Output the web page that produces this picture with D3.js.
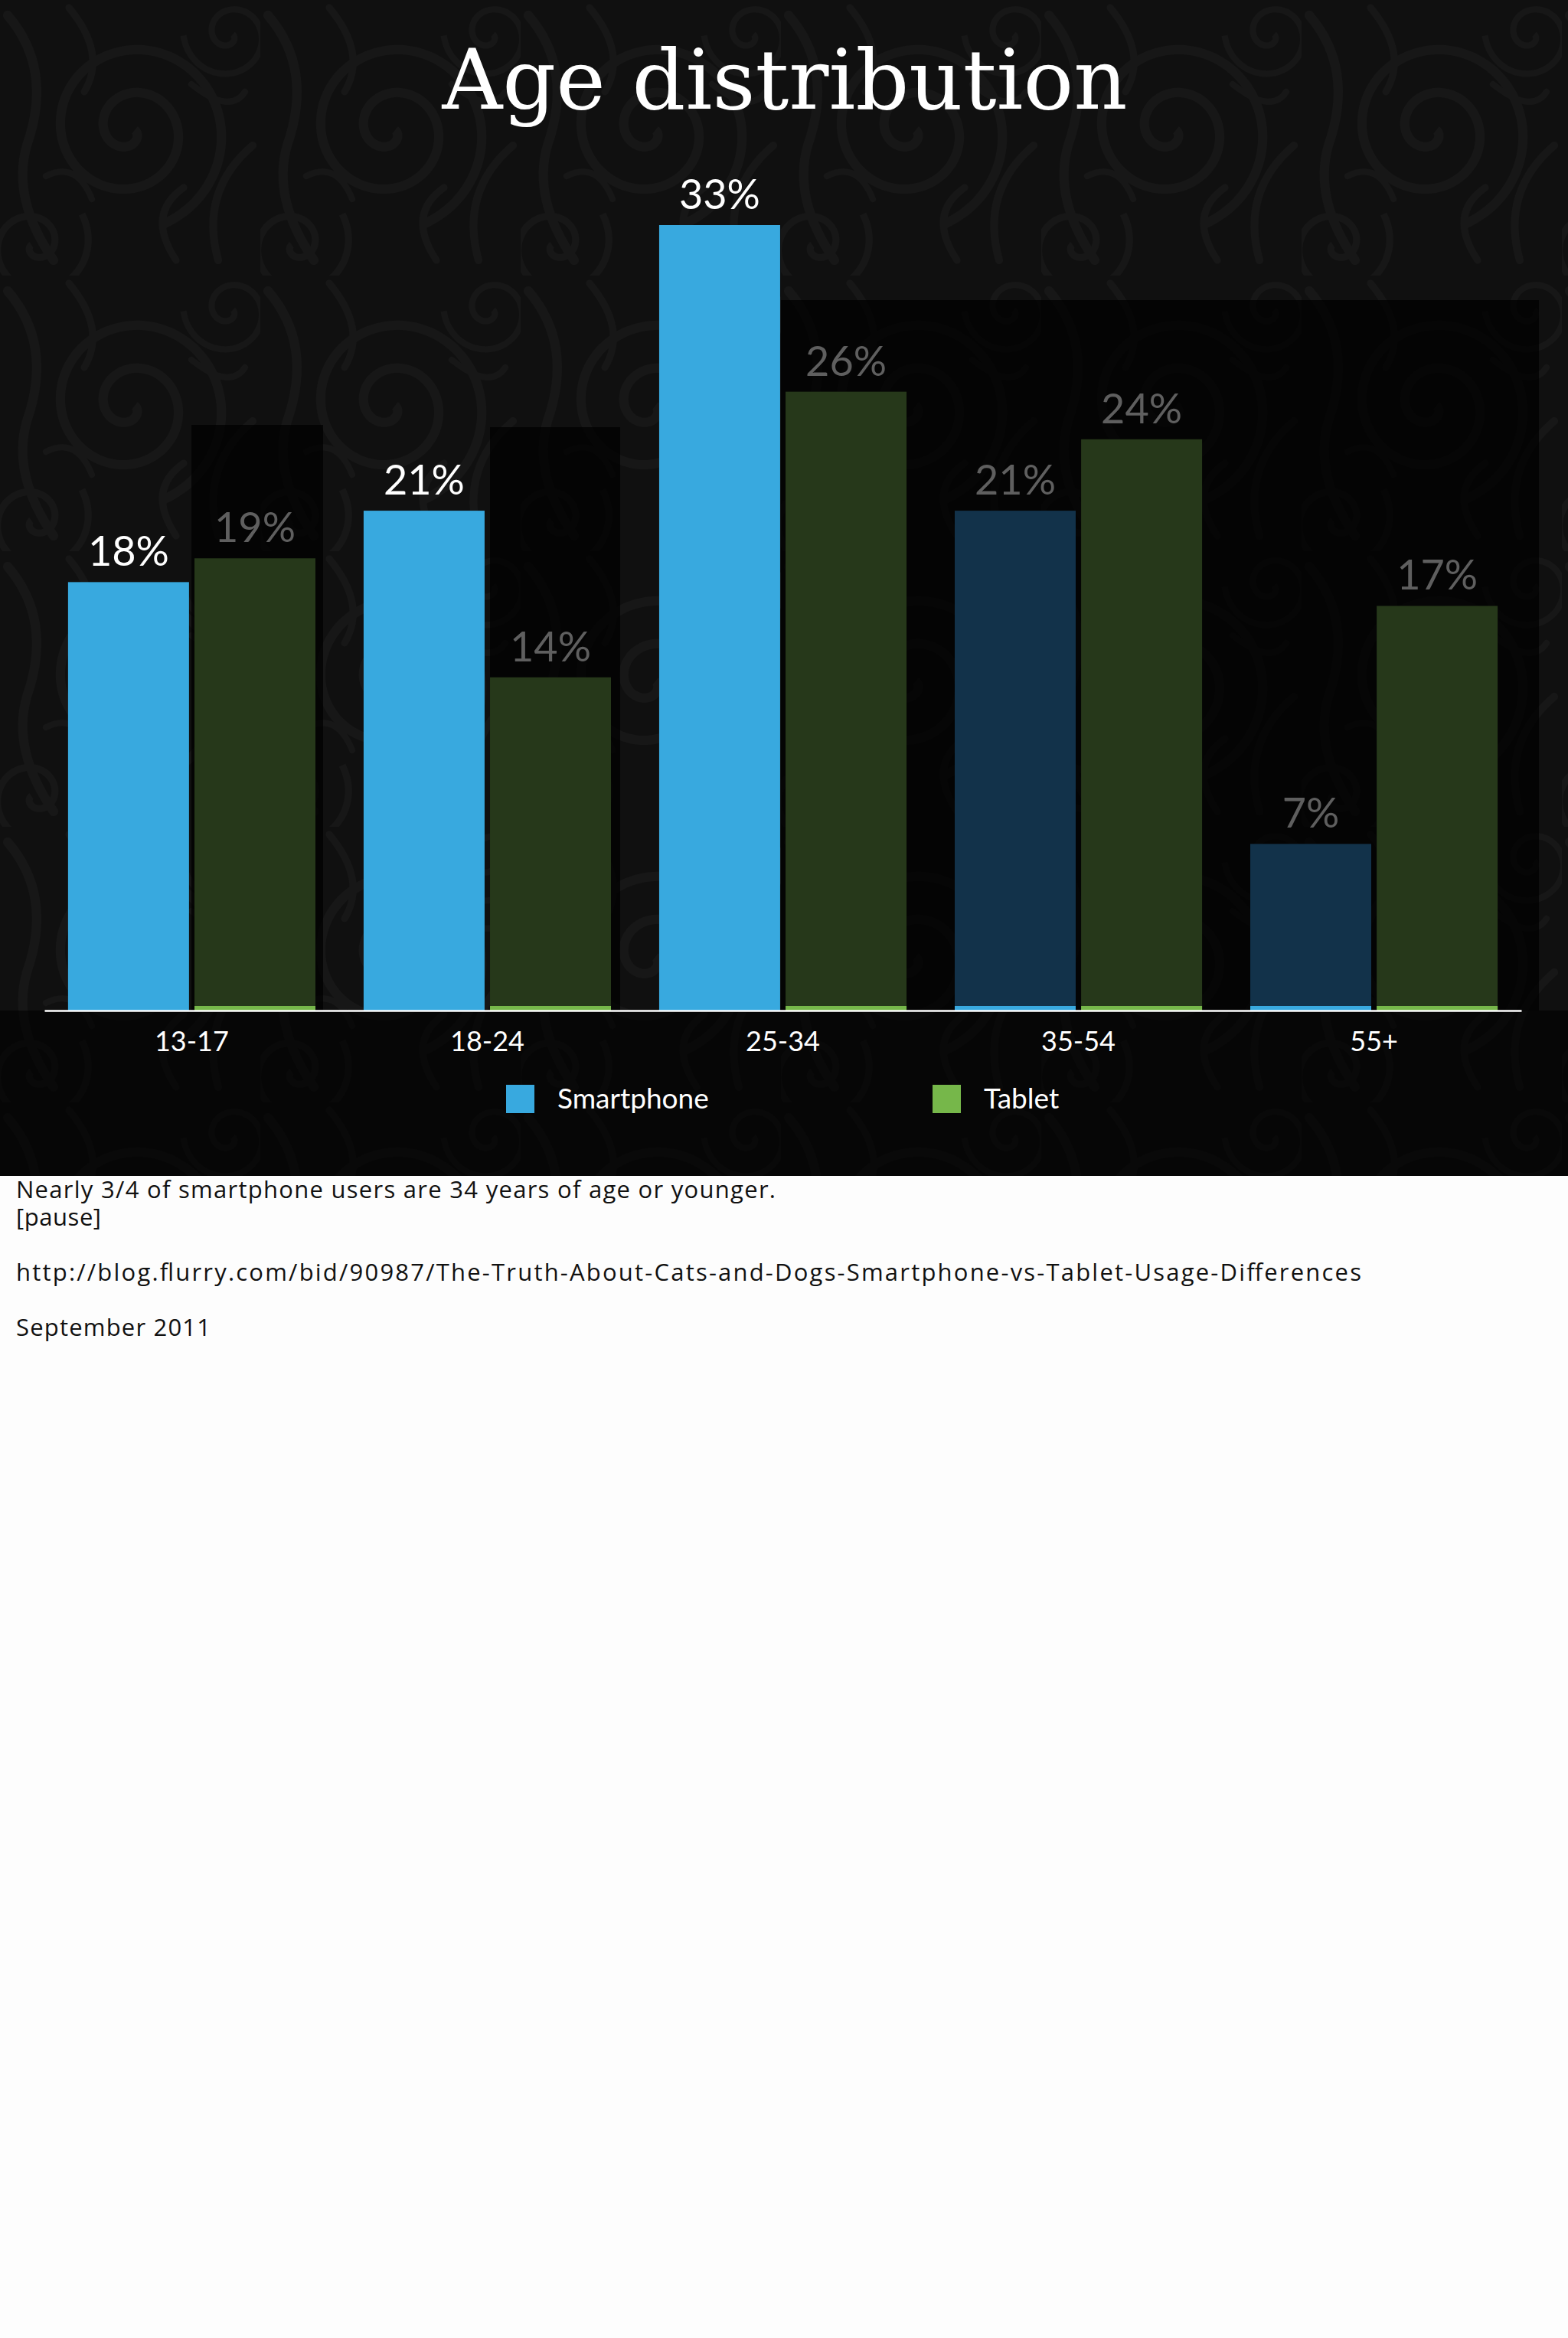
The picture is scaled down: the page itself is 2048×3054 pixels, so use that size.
<!DOCTYPE html>
<html><head><meta charset="utf-8">
<script src="https://cdn.jsdelivr.net/npm/d3@7"></script>
<style>
html,body{margin:0;padding:0;background:#fdfdfd;}
svg{display:block;}
</style></head><body>
<svg id="chart" width="2048" height="3054"></svg>
<script>
// ---------- data ----------
const categories = ["13-17", "18-24", "25-34", "35-54", "55+"];
const seriesNames = ["Smartphone", "Tablet"];
const smartphone = [18, 21, 33, 21, 7];
const tablet = [19, 14, 26, 24, 17];
const revealedSmartphone = 3; // first N smartphone bars shown at full strength
const title = "Age distribution";
const notes = [
  "Nearly 3/4 of smartphone users are 34 years of age or younger.",
  "[pause]",
  "",
  "http://blog.flurry.com/bid/90987/The-Truth-About-Cats-and-Dogs-Smartphone-vs-Tablet-Usage-Differences",
  "",
  "September 2011"
];

// ---------- layout / style ----------
const W = 2048, slideH = 1536;
const noteWidths = [992, 111, 0, 1757, 0, 254];
const colors = {
  Smartphone: {bright: "#38a9df", dim: "#12324a"},
  Tablet: {bright: "#76b74a", dim: "#26381a"}
};
const svg = d3.select("#chart");

// background pattern (decorative damask-like swirls)
const defs = svg.append("defs");
const pat = defs.append("pattern").attr("id", "damask").attr("patternUnits", "userSpaceOnUse")
  .attr("width", 340).attr("height", 360);
pat.append("rect").attr("width", 340).attr("height", 360).attr("fill", "#101010");
function spiral(cx, cy, turns, r0, k, dir) {
  const pts = d3.range(0, turns * 2 * Math.PI, 0.1).map(t => [cx + dir * (r0 + k * t) * Math.cos(t), cy + (r0 + k * t) * Math.sin(t)]);
  return d3.line().curve(d3.curveBasis)(pts);
}
const swirl = "#171717";
pat.append("path").attr("d", spiral(170, 170, 2.2, 6, 9, 1)).attr("fill", "none").attr("stroke", swirl).attr("stroke-width", 12);
pat.append("path").attr("d", spiral(45, 320, 1.6, 4, 7, -1)).attr("fill", "none").attr("stroke", swirl).attr("stroke-width", 9);
pat.append("path").attr("d", spiral(300, 45, 1.5, 4, 6, 1)).attr("fill", "none").attr("stroke", swirl).attr("stroke-width", 8);
[["M10,20 Q70,90 35,190 Q15,260 70,340", 12], ["M330,190 Q260,250 285,340", 10], ["M90,10 Q140,70 110,120", 9],
 ["M230,340 Q190,280 240,245", 9], ["M250,110 Q300,150 320,120", 8], ["M60,230 Q100,210 120,260", 8]]
  .forEach(([d, w]) => pat.append("path").attr("d", d).attr("fill", "none").attr("stroke", swirl).attr("stroke-width", w).attr("stroke-linecap", "round"));

svg.append("rect").attr("x", 0).attr("y", 0).attr("width", W).attr("height", slideH).attr("fill", "url(#damask)");

// scales
const x0 = d3.scaleBand().domain(categories).range([58, 1987]).paddingInner(0.163).paddingOuter(0.08);
const x1 = d3.scaleBand().domain(seriesNames).range([0, x0.bandwidth()]).paddingInner(0.043);
const y = d3.scaleLinear().domain([0, 33]).range([1320, 294]);

// decorative dim overlays (slide build shading)
const overlays = [[250, 555, 172], [640, 558, 170], [1020, 392, 990]];
svg.append("g").selectAll("rect").data(overlays).join("rect")
  .attr("x", d => d[0]).attr("y", d => d[1]).attr("width", d => d[2]).attr("height", d => y(0) - d[1])
  .attr("fill", "#000").attr("opacity", 0.72);
svg.append("rect").attr("x", 0).attr("y", y(0)).attr("width", W).attr("height", slideH - y(0)).attr("fill", "#000").attr("opacity", 0.6);

// title
svg.append("text").attr("x", 1025).attr("y", 142).attr("text-anchor", "middle")
  .attr("font-family", "'DejaVu Serif', serif").attr("font-size", 108).attr("fill", "#fff")
  .attr("textLength", 895).attr("lengthAdjust", "spacingAndGlyphs").text(title);

// bars
const rows = [];
categories.forEach((c, i) => {
  rows.push({cat: c, series: "Smartphone", value: smartphone[i], bright: i < revealedSmartphone});
  rows.push({cat: c, series: "Tablet", value: tablet[i], bright: false});
});
const bars = svg.append("g");
bars.selectAll("rect.bar").data(rows).join("rect").attr("class", "bar")
  .attr("x", d => x0(d.cat) + x1(d.series)).attr("width", x1.bandwidth())
  .attr("y", d => y(d.value)).attr("height", d => y(0) - y(d.value))
  .attr("fill", d => d.bright ? colors[d.series].bright : colors[d.series].dim);
bars.selectAll("rect.base").data(rows.filter(d => !d.bright)).join("rect").attr("class", "base")
  .attr("x", d => x0(d.cat) + x1(d.series)).attr("width", x1.bandwidth())
  .attr("y", y(0) - 6).attr("height", 6)
  .attr("fill", d => colors[d.series].bright);

// value labels
svg.append("g").selectAll("text").data(rows).join("text")
  .attr("x", d => x0(d.cat) + x1(d.series) + x1.bandwidth() / 2)
  .attr("y", d => y(d.value) - 21)
  .attr("text-anchor", "middle").attr("font-family", "Lato, sans-serif").attr("font-size", 54)
  .attr("fill", d => d.bright ? "#ffffff" : "#5f5f5f")
  .text(d => d.value + "%");

// axis
const axis = svg.append("g").attr("transform", `translate(0,${y(0)})`)
  .call(d3.axisBottom(x0).tickSize(0).tickSizeOuter(0).tickPadding(27));
axis.select(".domain").attr("stroke", "#fff").attr("stroke-width", 2.5);
axis.selectAll("text").attr("font-family", "Lato, sans-serif").attr("font-size", 36).attr("fill", "#fff");

// legend
const legendPos = [661, 1218];
const lg = svg.append("g").selectAll("g").data(seriesNames).join("g")
  .attr("transform", (d, i) => `translate(${legendPos[i]},1417)`);
lg.append("rect").attr("width", 37).attr("height", 37).attr("fill", d => colors[d].bright);
lg.append("text").attr("x", 67).attr("y", 31).attr("font-family", "Lato, sans-serif").attr("font-size", 37)
  .attr("fill", "#fff").text(d => d);

// notes below slide
svg.append("g").selectAll("text").data(notes.map((t, i) => ({t, w: noteWidths[i], i})).filter(d => d.t))
  .join("text")
  .attr("x", 21).attr("y", d => 1565 + d.i * 36)
  .attr("font-family", "'Open Sans', sans-serif").attr("font-size", 31).attr("fill", "#111")
  .attr("textLength", d => d.w).attr("lengthAdjust", "spacing")
  .text(d => d.t);
</script>
</body></html>
